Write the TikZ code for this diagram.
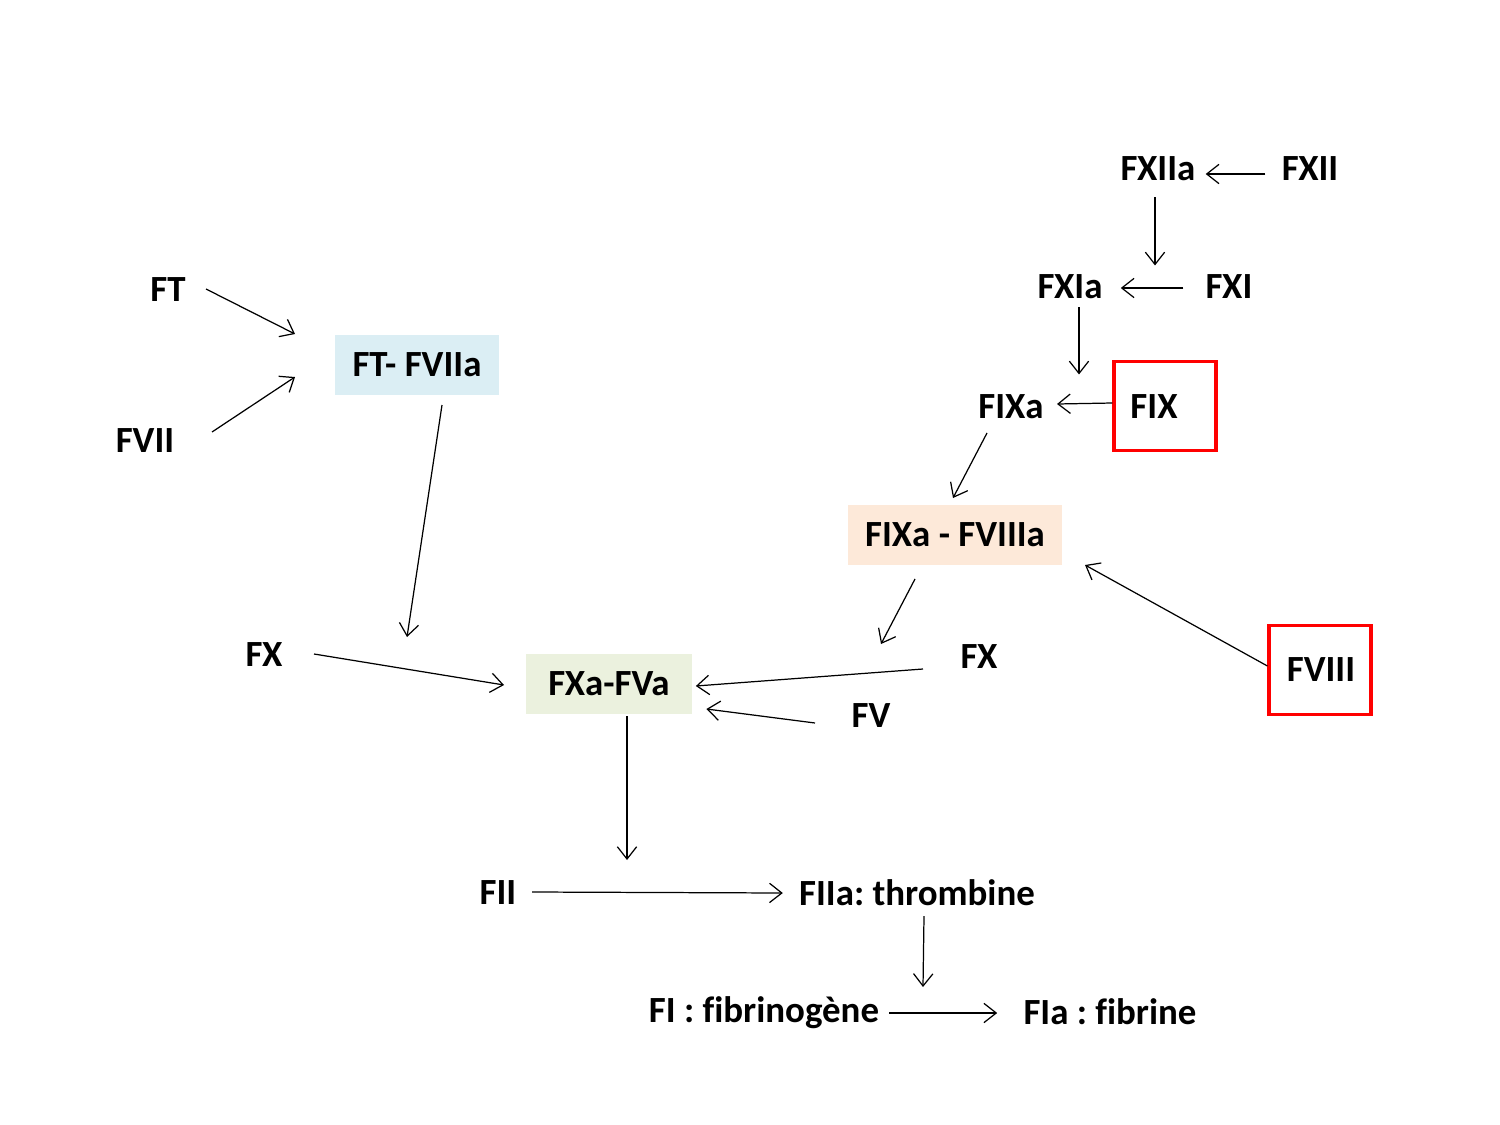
\documentclass[tikz,border=0pt]{standalone}
\usepackage{fontspec}
\setmainfont[Ligatures={NoCommon}]{Carlito}
\usetikzlibrary{arrows.meta}
\definecolor{boxblue}{HTML}{DBEEF4}
\definecolor{boxpeach}{HTML}{FDE9D9}
\definecolor{boxgreen}{HTML}{EBF1DE}
\frenchspacing
\tikzset{
  lbl/.style={font=\fontsize{21}{25}\selectfont\bfseries, inner sep=0pt},
  cplx/.style={lbl, minimum height=60*0.02cm, inner xsep=0pt},
  redbox/.style={draw=red, line width=1.8pt, minimum width=102*0.02cm, minimum height=89*0.02cm},
  arr/.style={-{Straight Barb[length=7pt,width=11pt]}, line width=0.7pt},
}
\begin{document}
\begin{tikzpicture}[x=0.02cm, y=-0.02cm]
    \useasboundingbox (0,0) rectangle (1500,1125);
    % complexes
    \node[cplx, fill=boxblue, minimum width=164*0.02cm] (ftf7) at (417,365) {FT- FVIIa};
    \node[cplx, fill=boxpeach, minimum width=214*0.02cm] (f9f8) at (955,535) {FIXa - FVIIIa};
    \node[cplx, fill=boxgreen, minimum width=166*0.02cm] (f10f5) at (609,684) {FXa-FVa};
    % red boxes
    \node[redbox] (fixbox) at (1165,406) {};
    \node[redbox] (fviiibox) at (1320,670) {};
    % factors
    \node[lbl] (ft) at (168,290) {FT};
    \node[lbl] (fvii) at (145,441) {FVII};
    \node[lbl] (fxl) at (264,655) {FX};
    \node[lbl] (fxiia) at (1158,169) {FXIIa};
    \node[lbl] (fxii) at (1310,169) {FXII};
    \node[lbl] (fxia) at (1070,287) {FXIa};
    \node[lbl] (fxi) at (1229,287) {FXI};
    \node[lbl] (fixa) at (1011,407) {FIXa};
    \node[lbl] (fix) at (1154,407) {FIX};
    \node[lbl] (fviii) at (1321,670) {FVIII};
    \node[lbl] (fxr) at (979,657) {FX};
    \node[lbl] (fv) at (871,716) {FV};
    \node[lbl] (fii) at (498,893) {FII};
    \node[lbl] (fiia) at (917,893) {FIIa: thrombine};
    \node[lbl] (fi) at (764,1013) {FI : fibrinog\`ene};
    \node[lbl] (fia) at (1110,1012) {FIa : fibrine};
    % arrow ends
    \coordinate (ft-o) at (206,289);    \coordinate (ft-i) at (295,334);
    \coordinate (fvii-o) at (212,432);  \coordinate (fvii-i) at (295,377);
    \coordinate (ftf7-o) at (442,405);  \coordinate (ftf7-i) at (407,637);
    \coordinate (fxl-o) at (314,654);   \coordinate (fxl-i) at (504,685);
    \coordinate (fxr-o) at (923,669);
    \coordinate (fv-o) at (815,723);
    \coordinate (f10f5-o) at (627,716); \coordinate (fii-i) at (627,860);
    \coordinate (fiia-o) at (924,916);  \coordinate (fi-i) at (923,987);
    \coordinate (fixa-o) at (987,433);  \coordinate (f9f8-i) at (953,498);
    \coordinate (f9f8-o) at (915,579);  \coordinate (fxr-i) at (881,644);
    \coordinate (fviii-i) at (1085,565);
    % reactions
    \draw[arr] (ft-o) -- (ft-i);
    \draw[arr] (fvii-o) -- (fvii-i);
    \draw[arr] (ftf7-o) -- (ftf7-i);
    \draw[arr] (fxl-o) -- (fxl-i);
    \draw[arr] (fxr-o) -- ([xshift=2pt,yshift=-0.04cm]f10f5.east);
    \draw[arr] (fv-o) -- ([xshift=8pt,yshift=-25*0.02cm]f10f5.east);
    \draw[arr] (f10f5-o) -- (fii-i);
    \draw[arr] (fii) ++(34,-1) -- ([xshift=-16*0.02cm]fiia.west |- fii);
    \draw[arr] (fiia-o) -- (fi-i);
    \draw[arr] ([xshift=10*0.02cm]fi.east) -- ([xshift=-26*0.02cm]fia.west |- fi);
    \draw[arr] ([xshift=-16*0.02cm]fxii.west) ++(0,5) -- ([xshift=10*0.02cm,yshift=-5*0.02cm]fxiia.east);
    \draw[arr] ([xshift=-3*0.02cm,yshift=-16*0.02cm]fxiia.south) -- ++(0,68);
    \draw[arr] ([xshift=-22*0.02cm,yshift=-1*0.02cm]fxi.west) -- ([xshift=18*0.02cm,yshift=-1*0.02cm]fxia.east);
    \draw[arr] ([xshift=9*0.02cm,yshift=-8*0.02cm]fxia.south) -- ++(0,67);
    \draw[arr] ([yshift=0.06cm]fixbox.west) -- ([xshift=13*0.02cm,yshift=0.06cm]fixa.east);
    \draw[arr] (fixa-o) -- (f9f8-i);
    \draw[arr] (f9f8-o) -- (fxr-i);
    \draw[arr] ([yshift=0.08cm]fviiibox.west) -- (fviii-i);
\end{tikzpicture}
\end{document}
